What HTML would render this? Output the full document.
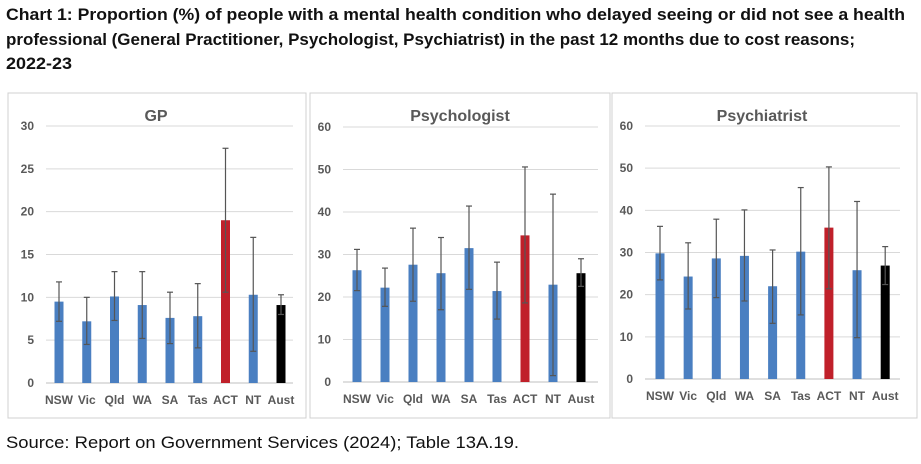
<!DOCTYPE html>
<html><head><meta charset="utf-8"><style>
html,body{margin:0;padding:0;background:#fff;width:921px;height:464px;overflow:hidden}
svg{display:block;font-family:"Liberation Sans",sans-serif}
</style></head><body>
<svg id="root" width="921" height="464" viewBox="0 0 921 464">
<text x="6" y="20" font-size="17" font-weight="bold" fill="#111" textLength="899" lengthAdjust="spacingAndGlyphs">Chart 1: Proportion (%) of people with a mental health condition who delayed seeing or did not see a health</text>
<text x="6" y="45" font-size="17" font-weight="bold" fill="#111" textLength="849" lengthAdjust="spacingAndGlyphs">professional (General Practitioner, Psychologist, Psychiatrist) in the past 12 months due to cost reasons;</text>
<text x="6" y="69" font-size="17" font-weight="bold" fill="#111" textLength="66" lengthAdjust="spacingAndGlyphs">2022-23</text>
<text x="6" y="448" font-size="17" fill="#111" textLength="513" lengthAdjust="spacingAndGlyphs">Source: Report on Government Services (2024); Table 13A.19.</text>
</svg>
<script>
const categories=["NSW","Vic","Qld","WA","SA","Tas","ACT","NT","Aust"];
const gpValues=[9.5,7.2,10.1,9.1,7.6,7.8,19,10.3,9.1];
const gpLow=[7.2,4.5,7.3,5.2,4.6,4.1,10.6,3.7,8.0];
const gpHigh=[11.8,10,13,13,10.6,11.6,27.4,17,10.3];
const psychologistValues=[26.3,22.2,27.6,25.6,31.5,21.4,34.5,22.9,25.6];
const psychologistLow=[21.5,17.8,19,17,21.8,14.8,18.6,1.5,22.5];
const psychologistHigh=[31.2,26.8,36.2,34,41.4,28.2,50.6,44.2,29];
const psychiatristValues=[29.8,24.3,28.6,29.2,22,30.2,35.9,25.8,26.9];
const psychiatristLow=[23.5,16.6,19.3,18.5,13.2,15.2,21.4,9.8,22.4];
const psychiatristHigh=[36.2,32.3,37.9,40.1,30.6,45.4,50.3,42.1,31.4];
const gpTicks=[0,5,10,15,20,25,30];
const pctTicks=[0,10,20,30,40,50,60];

const NS="http://www.w3.org/2000/svg";
const root=document.getElementById('root');
function mk(tag,attrs,parent){const e=document.createElementNS(NS,tag);for(const k in attrs)e.setAttribute(k,attrs[k]);(parent||root).appendChild(e);return e;}

function panel(cfg){
  const g=mk('g',{});
  
  
  const box=mk('rect',{x:cfg.bx,y:93,width:cfg.bw,height:325,fill:'#fff',stroke:'#d0d0d0','stroke-width':1},g);
  
  
  const t=mk('text',{x:cfg.tx,y:121,'font-size':16,'font-weight':'bold',fill:'#595959','text-anchor':'middle'},g);
  t.textContent=cfg.title;
  
  
  const max=cfg.ticks[cfg.ticks.length-1];
  const yS=v=>cfg.y0-(v/max)*(cfg.y0-cfg.yTop);
  const xS=i=>cfg.x0+i*cfg.step;
  cfg.ticks.forEach(v=>{
    const l=mk('line',{x1:cfg.left,x2:cfg.right,y1:yS(v),y2:yS(v),stroke:v===0?'#bfbfbf':'#d9d9d9','stroke-width':1},g);
    
    
    const tx=mk('text',{x:cfg.left-12,y:yS(v)+4,'font-size':12,'font-weight':'bold',fill:'#595959','text-anchor':'end'},g);
    tx.textContent=v;
    
    
  });
  categories.forEach((c,i)=>{
    const x=xS(i),v=cfg.values[i];
    const col=c==='ACT'?'#c0202a':(c==='Aust'?'#000':'#4a7fc1');
    const b=mk('rect',{x:x-4.5,y:yS(v),width:9,height:yS(0)-yS(v),fill:col},g);
    
    
    const eg=mk('g',{stroke:'#555','stroke-width':1.2},g);
    
    
    mk('line',{x1:x,x2:x,y1:yS(cfg.low[i]),y2:yS(cfg.high[i])},eg);
    mk('line',{x1:x-3,x2:x+3,y1:yS(cfg.low[i]),y2:yS(cfg.low[i])},eg);
    mk('line',{x1:x-3,x2:x+3,y1:yS(cfg.high[i]),y2:yS(cfg.high[i])},eg);
    const lb=mk('text',{x:x,y:cfg.y0+21,'font-size':12,'font-weight':'bold',fill:'#595959','text-anchor':'middle'},g);
    lb.textContent=c;
    
    
  });
}
panel({name:'gp',title:'GP',bx:8,bw:298,tx:156,yTop:126,y0:383,left:46,right:293,x0:59,step:27.75,ticks:gpTicks,values:gpValues,low:gpLow,high:gpHigh});
panel({name:'psychologist',title:'Psychologist',bx:310,bw:300,tx:460,yTop:127,y0:382,left:343,right:598,x0:357,step:28,ticks:pctTicks,values:psychologistValues,low:psychologistLow,high:psychologistHigh});
panel({name:'psychiatrist',title:'Psychiatrist',bx:612,bw:305,tx:762,yTop:126,y0:379,left:645,right:900,x0:660,step:28.15,ticks:pctTicks,values:psychiatristValues,low:psychiatristLow,high:psychiatristHigh});
</script>
</body></html>
